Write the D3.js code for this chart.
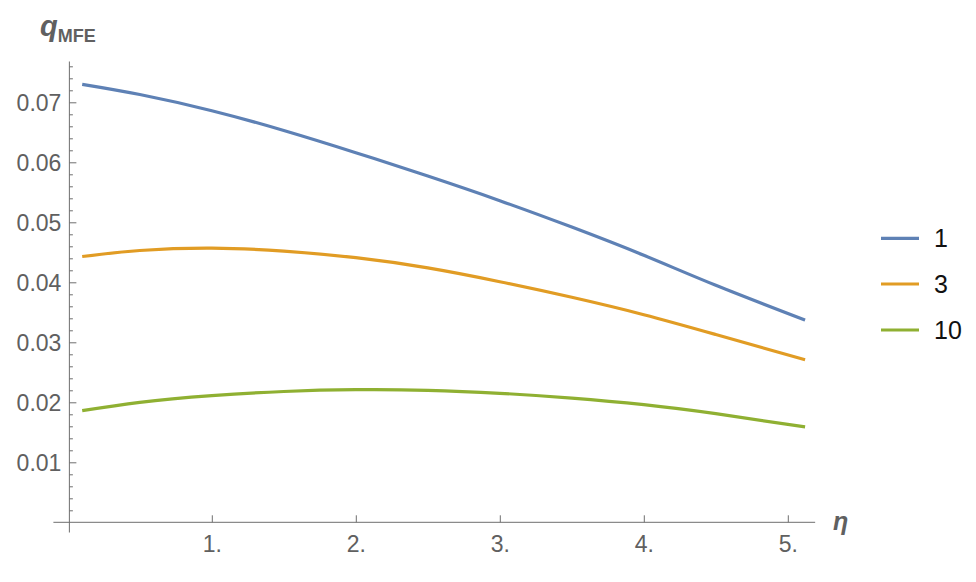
<!DOCTYPE html>
<html>
<head>
<meta charset="utf-8">
<script src="https://cdn.jsdelivr.net/npm/d3@7"></script>
<style>
  html, body { margin: 0; padding: 0; background: #fff; }
  svg { display: block; }
</style>
</head>
<body>
<svg id="chart" width="976" height="582"></svg>
<script>
// ---- data ----
const etaValues = [0.1, 0.5, 1.0, 1.5, 2.0, 2.5, 3.0, 3.5, 4.0, 4.5, 5.12];
const seriesNames = ["1", "3", "10"];
const series1  = [0.0730, 0.0713, 0.0686, 0.0653, 0.0616, 0.0577, 0.0536, 0.0492, 0.0445, 0.0395, 0.0337];
const series3  = [0.0443, 0.0453, 0.0457, 0.0452, 0.0441, 0.0424, 0.0401, 0.0375, 0.0346, 0.0313, 0.0271];
const series10 = [0.0186, 0.0200, 0.0211, 0.0218, 0.0221, 0.0220, 0.0215, 0.0207, 0.0196, 0.0181, 0.0159];
const xTickValues = [1, 2, 3, 4, 5];
const xTickLabels = ["1.", "2.", "3.", "4.", "5."];
const yTickValues = [0.01, 0.02, 0.03, 0.04, 0.05, 0.06, 0.07];
const yTickLabels = ["0.01", "0.02", "0.03", "0.04", "0.05", "0.06", "0.07"];
const colors = ["#5E81B5", "#E19C24", "#8FB032"];

const allSeries = [series1, series3, series10];

// ---- scales ----
const svg = d3.select("#chart");
const x = d3.scaleLinear().domain([0, 5]).range([67.8, 787.8]);
const y = d3.scaleLinear().domain([0, 0.07]).range([522.3, 102.3]);

const axisColor = "#6e6e6e";
const labelColor = "#606060";
const fontFam = "'Liberation Sans', Arial, Helvetica, sans-serif";

// ---- axis lines ----
const xAxisMin = -0.1, xAxisMax = 5.19;
const yAxisX = 0.011, yAxisMin = -0.0017, yAxisMax = 0.0768;

svg.append("line")
  .attr("x1", x(xAxisMin)).attr("x2", x(xAxisMax))
  .attr("y1", y(0)).attr("y2", y(0))
  .attr("stroke", axisColor).attr("stroke-width", 1);
svg.append("line")
  .attr("x1", x(yAxisX)).attr("x2", x(yAxisX))
  .attr("y1", y(yAxisMin)).attr("y2", y(yAxisMax))
  .attr("stroke", axisColor).attr("stroke-width", 1);

// x axis ticks (upward) with labels below
const xAxis = d3.axisBottom(x)
  .tickValues(xTickValues)
  .tickFormat((d, i) => xTickLabels[i])
  .tickSizeInner(-7).tickSizeOuter(0).tickPadding(13);
const gx = svg.append("g").attr("transform", `translate(0,${y(0)})`).call(xAxis);
gx.select(".domain").remove();
gx.selectAll(".tick line").attr("stroke", axisColor);
gx.selectAll(".tick text").attr("fill", labelColor)
  .style("font-family", fontFam).style("font-size", "23px");

// y axis major ticks (pointing right) with labels left
const yAxis = d3.axisLeft(y)
  .tickValues(yTickValues)
  .tickFormat((d, i) => yTickLabels[i])
  .tickSizeInner(-7).tickSizeOuter(0).tickPadding(8);
const gy = svg.append("g").attr("transform", `translate(${x(yAxisX)},0)`).call(yAxis);
gy.select(".domain").remove();
gy.selectAll(".tick line").attr("stroke", axisColor);
gy.selectAll(".tick text").attr("fill", labelColor).attr("dy", "0.37em")
  .style("font-family", fontFam).style("font-size", "23px");

// y axis minor ticks
const minorValues = d3.range(1, 39).map(i => i * 0.002).filter(v => Math.abs(v * 100 - Math.round(v * 100)) > 1e-6);
const yMinor = d3.axisLeft(y).tickValues(minorValues).tickFormat("").tickSizeInner(-3.5).tickSizeOuter(0);
const gym = svg.append("g").attr("transform", `translate(${x(yAxisX)},0)`).call(yMinor);
gym.select(".domain").remove();
gym.selectAll(".tick line").attr("stroke", axisColor);

// ---- curves ----
const line = d3.line()
  .x((d, i) => x(etaValues[i]))
  .y(d => y(d))
  .curve(d3.curveNatural);

allSeries.forEach((s, k) => {
  svg.append("path")
    .datum(s)
    .attr("d", line)
    .attr("fill", "none")
    .attr("stroke", colors[k])
    .attr("stroke-width", 3.2)
    .attr("stroke-linecap", "butt")
    .attr("stroke-linejoin", "round");
});

// ---- axis labels ----
const title = svg.append("text")
  .attr("x", 40).attr("y", 36)
  .attr("fill", labelColor)
  .style("font-family", fontFam);
title.append("tspan").text("q")
  .style("font-size", "29px").style("font-weight", "bold").style("font-style", "italic");
title.append("tspan").text("MFE")
  .attr("dy", 5.5)
  .style("font-size", "18px").style("font-weight", "bold");

svg.append("text")
  .attr("x", 833).attr("y", 530)
  .attr("fill", labelColor)
  .style("font-family", fontFam)
  .style("font-size", "25px").style("font-weight", "bold").style("font-style", "italic")
  .text("η");

// ---- legend ----
const legendY = [238.3, 284, 330];
const legend = svg.append("g");
seriesNames.forEach((name, k) => {
  legend.append("line")
    .attr("x1", 881).attr("x2", 919)
    .attr("y1", legendY[k]).attr("y2", legendY[k])
    .attr("stroke", colors[k]).attr("stroke-width", 3.2);
  legend.append("text")
    .attr("x", 934).attr("y", legendY[k] + 9)
    .attr("fill", "#111")
    .style("font-family", fontFam).style("font-size", "25px")
    .text(name);
});
</script>
</body>
</html>
